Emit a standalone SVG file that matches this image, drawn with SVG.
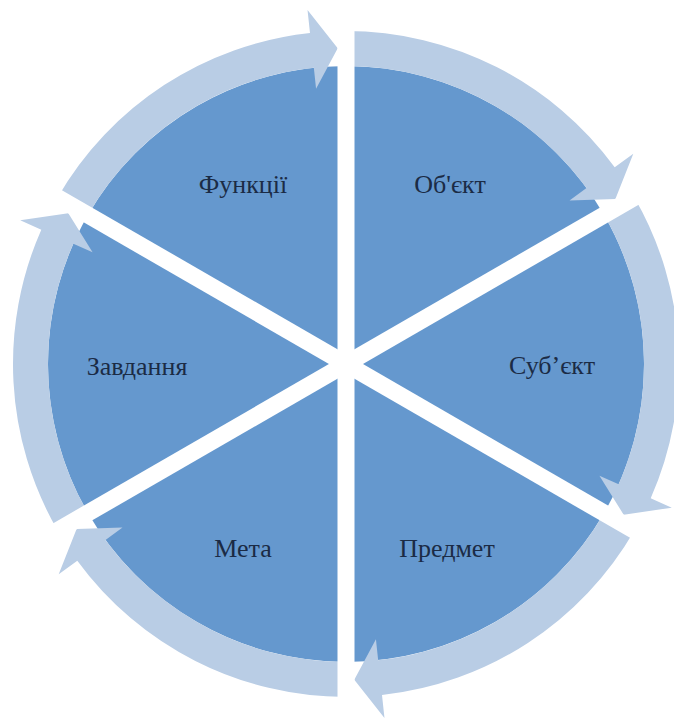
<svg xmlns="http://www.w3.org/2000/svg" xmlns:xlink="http://www.w3.org/1999/xlink" width="674" height="722" viewBox="0 0 674 722">
<style>
.sector{fill:#6598CE;}
.arrow{fill:#B9CDE5;}
.gap{stroke:#FFFFFF;stroke-width:17;stroke-linecap:butt;}
.label{font-family:"Liberation Serif","DejaVu Serif",serif;font-size:26px;fill:#1B2B45;text-anchor:middle;}
</style>
<defs>
<path id="arrowShape" class="arrow" d="M346,31 A333,333 0 0 1 614.7,167.3 L633.3,153.7 L615.4,198.9 L569.5,200.4 L586.5,188.0 A298,298 0 0 0 346,66 Z"/>
</defs>
<rect width="674" height="722" fill="#FFFFFF"/>
<g id="node-object">
<path class="sector" d="M346,364 L346,66 A298,298 0 0 1 604.1,215 Z"/>
<text class="label" x="450" y="193">Об'єкт</text>
</g>
<g id="node-subject">
<path class="sector" d="M346,364 L604.1,215 A298,298 0 0 1 604.1,513 Z"/>
<text class="label" x="552" y="374">Суб’єкт</text>
</g>
<g id="node-predmet">
<path class="sector" d="M346,364 L604.1,513 A298,298 0 0 1 346,662 Z"/>
<text class="label" x="447" y="557">Предмет</text>
</g>
<g id="node-meta">
<path class="sector" d="M346,364 L346,662 A298,298 0 0 1 87.9,513 Z"/>
<text class="label" x="243" y="557">Мета</text>
</g>
<g id="node-zavdannia">
<path class="sector" d="M346,364 L87.9,513 A298,298 0 0 1 87.9,215 Z"/>
<text class="label" x="137" y="375">Завдання</text>
</g>
<g id="node-funktsii">
<path class="sector" d="M346,364 L87.9,215 A298,298 0 0 1 346,66 Z"/>
<text class="label" x="243" y="193">Функції</text>
</g>
<g id="connectors">
<use xlink:href="#arrowShape"/>
<use xlink:href="#arrowShape" transform="rotate(60 346 364)"/>
<use xlink:href="#arrowShape" transform="rotate(120 346 364)"/>
<use xlink:href="#arrowShape" transform="rotate(180 346 364)"/>
<use xlink:href="#arrowShape" transform="rotate(240 346 364)"/>
<use xlink:href="#arrowShape" transform="rotate(300 346 364)"/>
<line class="gap" x1="346" y1="-10" x2="346" y2="740"/>
<line class="gap" x1="25.6" y1="549" x2="666.4" y2="179"/>
<line class="gap" x1="25.6" y1="179" x2="666.4" y2="549"/>
</g>
</svg>
